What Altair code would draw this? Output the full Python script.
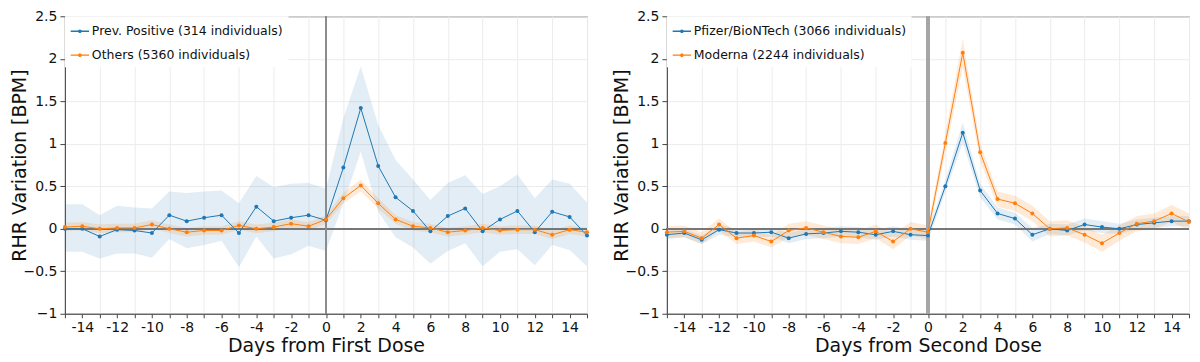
import altair as alt
import pandas as pd

days = list(range(-15, 16))
label_days = [-14, -12, -10, -8, -6, -4, -2, 0, 2, 4, 6, 8, 10, 12, 14]
minor_days = [-15, -13, -11, -9, -7, -5, -3, -1, 1, 3, 5, 7, 9, 11, 13, 15]
y_ticks = [-1, -0.5, 0, 0.5, 1, 1.5, 2, 2.5]

# Left panel: first dose
pp_label = "Prev. Positive (314 individuals)"
pp_mean = [0.0, 0.0, -0.09, -0.01, -0.02, -0.05, 0.16, 0.09, 0.13, 0.16, -0.05, 0.26, 0.09, 0.13, 0.16, 0.10,
           0.72, 1.42, 0.74, 0.37, 0.21, -0.03, 0.15, 0.24, -0.03, 0.11, 0.21, -0.04, 0.20, 0.14, -0.08]
pp_hi = [0.29, 0.29, 0.16, 0.27, 0.25, 0.24, 0.44, 0.42, 0.44, 0.45, 0.30, 0.62, 0.49, 0.53, 0.54, 0.47,
         1.30, 1.91, 1.22, 0.81, 0.58, 0.34, 0.54, 0.63, 0.41, 0.50, 0.64, 0.36, 0.58, 0.53, 0.31]
pp_lo = [-0.27, -0.27, -0.35, -0.29, -0.29, -0.34, -0.12, -0.23, -0.19, -0.14, -0.45, -0.09, -0.35, -0.30, -0.20, -0.26,
         0.30, 0.91, 0.20, -0.10, -0.22, -0.41, -0.26, -0.17, -0.44, -0.27, -0.24, -0.43, -0.19, -0.25, -0.44]

ot_label = "Others (5360 individuals)"
ot_mean = [0.02, 0.03, 0.0, 0.01, 0.01, 0.05, 0.0, -0.04, -0.02, -0.02, 0.04, 0.0, 0.02, 0.06, 0.03, 0.11,
           0.36, 0.51, 0.30, 0.11, 0.03, 0.01, -0.04, -0.02, 0.01, -0.02, -0.01, -0.01, -0.07, -0.01, -0.04]
ot_hi = [0.07, 0.08, 0.05, 0.06, 0.06, 0.10, 0.05, 0.01, 0.03, 0.03, 0.09, 0.05, 0.07, 0.11, 0.08, 0.16,
         0.42, 0.58, 0.36, 0.16, 0.08, 0.06, 0.01, 0.03, 0.06, 0.03, 0.04, 0.04, -0.02, 0.04, 0.01]
ot_lo = [-0.03, -0.02, -0.05, -0.04, -0.04, 0.0, -0.05, -0.09, -0.07, -0.07, -0.01, -0.05, -0.03, 0.01, -0.02, 0.06,
         0.30, 0.44, 0.24, 0.06, -0.02, -0.04, -0.09, -0.07, -0.04, -0.07, -0.06, -0.06, -0.12, -0.06, -0.09]

# Right panel: second dose
pf_label = "Pfizer/BioNTech (3066 individuals)"
pf_mean = [-0.07, -0.05, -0.13, -0.01, -0.05, -0.05, -0.04, -0.11, -0.06, -0.05, -0.03, -0.04, -0.07, -0.03, -0.07, -0.08,
           0.50, 1.13, 0.45, 0.18, 0.12, -0.07, 0.0, -0.02, 0.05, 0.02, 0.0, 0.05, 0.07, 0.09, 0.09]
pf_hi = [-0.02, 0.0, -0.08, 0.05, 0.0, 0.0, 0.01, -0.05, 0.0, 0.01, 0.03, 0.02, -0.01, 0.03, -0.01, -0.02,
         0.57, 1.25, 0.53, 0.25, 0.19, 0.01, 0.06, 0.05, 0.12, 0.09, 0.06, 0.11, 0.13, 0.15, 0.15]
pf_lo = [-0.12, -0.10, -0.18, -0.07, -0.10, -0.10, -0.09, -0.17, -0.12, -0.11, -0.09, -0.10, -0.13, -0.09, -0.13, -0.14,
         0.43, 1.01, 0.37, 0.11, 0.05, -0.15, -0.06, -0.08, -0.02, -0.05, -0.06, -0.01, 0.01, 0.03, 0.03]

md_label = "Moderna (2244 individuals)"
md_mean = [-0.04, -0.03, -0.11, 0.05, -0.11, -0.08, -0.15, -0.02, 0.01, -0.04, -0.09, -0.10, -0.03, -0.15, 0.0, -0.04,
           1.01, 2.07, 0.90, 0.35, 0.30, 0.18, 0.0, 0.01, -0.07, -0.17, -0.05, 0.06, 0.09, 0.18, 0.08]
md_hi = [0.03, 0.04, -0.04, 0.12, -0.04, -0.01, -0.08, 0.06, 0.09, 0.04, -0.01, -0.02, 0.05, -0.06, 0.08, 0.04,
         1.12, 2.24, 1.00, 0.44, 0.39, 0.27, 0.09, 0.10, 0.02, -0.07, 0.04, 0.15, 0.18, 0.28, 0.18]
md_lo = [-0.11, -0.10, -0.18, -0.02, -0.18, -0.15, -0.22, -0.10, -0.07, -0.12, -0.17, -0.18, -0.11, -0.24, -0.08, -0.12,
         0.90, 1.90, 0.80, 0.26, 0.21, 0.09, -0.09, -0.08, -0.16, -0.27, -0.14, -0.03, 0.0, 0.08, -0.02]

BLUE = "#1f77b4"
ORANGE = "#ff7f0e"
FONT = "DejaVu Sans"
LEGEND_PATH = "M-1,0H1M-0.13,0A0.13,0.13,0,1,0,0.13,0A0.13,0.13,0,1,0,-0.13,0Z"


def frame(label, mean, lo, hi):
    return pd.DataFrame({"series": label, "day": days, "mean": mean, "lo": lo, "hi": hi})


def panel(df, labels, xtitle, zero_width, zero_color, width):
    xs = alt.Scale(domain=[-15, 15], nice=False, zero=False)
    ys = alt.Scale(domain=[-1, 2.5], nice=False)
    cs = alt.Scale(domain=labels, range=[BLUE, ORANGE])
    main_axis = alt.Axis(values=label_days, format="d", labelOverlap=False, title=xtitle, tickSize=4,
                         labelPadding=3, titlePadding=2, labelFlush=False, orient="bottom",
                         labelExpr="replace(datum.label, '\u2212', '-')")
    minor_axis = alt.Axis(values=minor_days, labels=False, title=None, tickSize=4, domain=False,
                          orient="bottom")
    yaxis = alt.Axis(values=y_ticks, format=".1~f", title="RHR Variation [BPM]",
                     tickSize=5, labelPadding=3, titleX=-35, titleY=149, titleBaseline="bottom",
                     titleAlign="center", labelOverlap=False)
    bands = []
    for i, (lab, col, op) in enumerate(zip(labels, [BLUE, ORANGE], [0.13, 0.16])):
        bands.append(alt.Chart(df).transform_filter(alt.datum.series == lab).mark_area(
            color=col, opacity=op, strokeWidth=0).encode(
            x=alt.X("day:Q", scale=xs, axis=minor_axis if i == 0 else None),
            y=alt.Y("lo:Q", scale=ys, axis=yaxis), y2="hi:Q"))
    hzero = alt.Chart(df).mark_rule(color="#777", strokeWidth=1.3).encode(y=alt.datum(0))
    vzero = alt.Chart(df).mark_rule(color=zero_color, strokeWidth=zero_width).encode(
        x=alt.X(datum=0, scale=xs, axis=None))
    line = alt.Chart(df).mark_line(strokeWidth=1, point=alt.OverlayMarkDef(filled=True, size=16)).encode(
        x=alt.X("day:Q", scale=xs, axis=main_axis), y=alt.Y("mean:Q", scale=ys, axis=yaxis),
        color=alt.Color("series:N", scale=cs, legend=alt.Legend(
            title=None, orient="top-left", offset=0, padding=5, fillColor="white",
            symbolType=LEGEND_PATH, symbolSize=340, symbolStrokeWidth=1.3, labelOffset=2,
            labelFontSize=12.5, labelFont=FONT, labelColor="#111", rowPadding=7, labelLimit=400)),
    )
    return alt.layer(*bands, hzero, vzero, line).resolve_axis(x="independent").properties(
        width=width, height=298)


left = panel(pd.concat([frame(pp_label, pp_mean, pp_lo, pp_hi), frame(ot_label, ot_mean, ot_lo, ot_hi)]),
             [pp_label, ot_label], "Days from First Dose", 1.3, "#8c8c8c", 523)
right = panel(pd.concat([frame(pf_label, pf_mean, pf_lo, pf_hi), frame(md_label, md_mean, md_lo, md_hi)]),
              [pf_label, md_label], "Days from Second Dose", 2.6, "#a6a6a6", 523)

chart = alt.hconcat(left, right, spacing=22).resolve_scale(color="independent").properties(
    padding={"left": 2, "top": 0, "right": 0, "bottom": 0}
).configure_view(stroke="#444", strokeWidth=1).configure_axis(
    labelFont=FONT, titleFont=FONT, labelFontSize=14, titleFontSize=19, titleFontWeight="normal",
    labelColor="#111", titleColor="#111", domainColor="#444", tickColor="#444",
    gridColor="#ececec", gridWidth=1,
)

chart.save("out.html", embed_options={"renderer": "svg", "actions": False})
